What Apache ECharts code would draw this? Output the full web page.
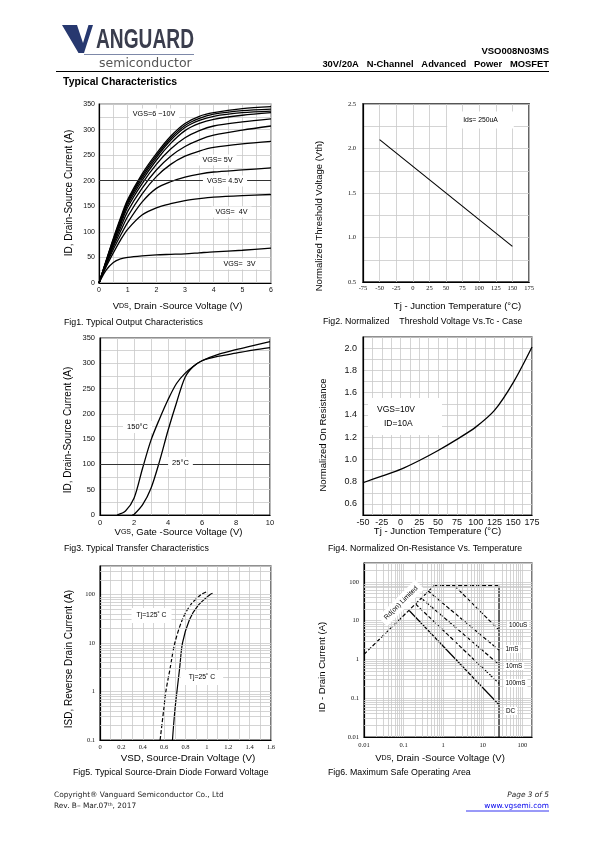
<!DOCTYPE html>
<html><head><meta charset="utf-8">
<script src="https://cdn.jsdelivr.net/npm/echarts@6/dist/echarts.min.js"></script>
<style>html,body{margin:0;padding:0;background:#fff}#c{width:595px;height:842px}</style>
</head><body><div id="c"></div>
<script>
// ---------- Fig1: output characteristics ----------
const fig1Vds = [0,0.25,0.5,0.75,1,1.5,2,2.5,3,3.5,4,5,6];
const fig1Id_10V = [0,44,87,127,163,213,253,287,312,326,333,341,345];
const fig1Id_9V  = [0,43,85,124,160,209,249,283,308,322,330,337,340];
const fig1Id_8V  = [0,42,83,121,157,205,245,279,304,318,326,333,336];
const fig1Id_7V  = [0,41,81,118,153,200,240,273,298,312,320,328,333];
const fig1Id_6V  = [0,40,78,114,148,194,232,262,284,298,307,315,321];
const fig1Id_55V = [0,39,75,108,140,185,221,248,267,280,289,299,307];
const fig1Id_5V  = [0,37,71,101,130,174,208,232,248,258,265,272,277];
const fig1Id_45V = [0,35,66,93,118,158,185,198,207,213,217,221,225];
const fig1Id_4V  = [0,32,59,84,105,133,147,155,161,165,168,171,173];
const fig1Id_3V  = [0,25,40,47,50,53,55,56,57,59,61,64,68];
const fig1Curves = [fig1Id_10V,fig1Id_9V,fig1Id_8V,fig1Id_7V,fig1Id_6V,fig1Id_55V,fig1Id_5V,fig1Id_45V,fig1Id_4V,fig1Id_3V];
const fig1Names = ['VGS=10V','VGS=9V','VGS=8V','VGS=7V','VGS=6V','VGS=5.5V','VGS=5V','VGS=4.5V','VGS=4V','VGS=3V'];

// ---------- Fig2: threshold voltage ----------
const fig2Tj = [-50, 150];
const fig2Vth = [2.1, 0.9];

// ---------- Fig3: transfer characteristics ----------
const fig3Vgs150 = [1,1.5,2,2.5,3,3.5,4,4.5,5,5.5,6,7,8,9,10];
const fig3Id150  = [0,8,33,92,148,190,228,260,280,294,305,314,320,326,331];
const fig3Vgs25  = [1.9,2,2.5,3,3.5,4,4.5,5,5.5,6,7,8,9,10];
const fig3Id25   = [0,1,20,53,106,167,222,272,294,305,318,327,335,343];

// ---------- Fig4: on-resistance ----------
const fig4Tj = [-50,-25,0,25,50,75,100,125,150,175];
const fig4Ron = [0.79,0.85,0.91,0.99,1.08,1.18,1.29,1.44,1.69,2.01];

// ---------- Fig5: diode forward voltage ----------
const fig5Vsd125 = [0.5625,0.60,0.616,0.656,0.70,0.77,0.845,0.947,1.0];
const fig5Isd125 = [0.1,0.5,1,3,10,30,60,100,114];
const fig5Vsd25  = [0.678,0.70,0.72,0.745,0.772,0.837,0.92,1.03,1.053];
const fig5Isd25  = [0.1,0.4,1,3,10,30,60,100,106];
const fig5YTickLabels = ['0.1','1','10','100'];

// ---------- Fig6: safe operating area ----------
const fig6RdsV = [0.01, 0.59];      const fig6RdsI = [1.35, 80];
const fig6TopV = [0.59, 25.7];      const fig6TopI = [80, 80];
const fig6VmaxV = [25.7, 25.7];     const fig6VmaxI = [80, 0.01];
const fig6_100usV = [1.93, 25.7];   const fig6_100usI = [80, 5.7];
const fig6_1msV = [0.41, 25.7];     const fig6_1msI = [59, 1.74];
const fig6_10msV = [0.28, 25.7];    const fig6_10msI = [38, 0.74];
const fig6_100msV = [0.2, 25.7];    const fig6_100msI = [27, 0.24];
const fig6_dcV = [0.14, 25.7];      const fig6_dcI = [18, 0.068];
const fig6TickLabels = ['0.01','0.1','1','10','100'];

// ---------------------------------------------------------
const L10 = Math.log10;
const zip = (a,b) => a.map((v,i)=>[v,b[i]]);
const zipLog = (a,b,lx) => a.map((v,i)=>[lx?L10(v):v, L10(b[i])]);
const GC = '#c9c9c9';
const SANS = 'Liberation Sans';

function logMinor(lo, hi){
  const out=[];
  for(let d=Math.floor(lo); d<=Math.ceil(hi); d++){
    for(let k=2;k<=9;k++){ const v=d+L10(k); if(v>lo+1e-6 && v<hi-1e-6) out.push(v); }
  }
  return out;
}

function ax(gi, min, max, interval, o){
  o = o||{};
  return {
    type:'value', gridIndex:gi, min:min, max:max, interval:interval,
    axisLine:{show:true, onZero:false, lineStyle:{color:'#000', width:1.2}},
    axisTick:{show:false},
    splitLine:{show:true, lineStyle:{color:GC, width:0.8}},
    minorTick:{show:false, splitNumber:o.minor||2},
    minorSplitLine:{show:!!o.minor, lineStyle:{color:GC, width:0.8}},
    axisLabel:{color:'#111', fontSize:o.fs||7, fontFamily:o.ff||SANS, margin:o.margin==null?4:o.margin,
      formatter:o.fmt, showMaxLabel: o.showMax==null?true:o.showMax}
  };
}

const grids = [
  {left:99, top:104, width:172, height:179, borderColor:'#777'},
  {left:363, top:104, width:166, height:178, borderColor:'#555', borderWidth:1.8},
  {left:100, top:338, width:170, height:177},
  {left:363, top:337, width:169, height:178},
  {left:100, top:566, width:171, height:174},
  {left:364, top:563, width:168, height:174}
].map(g=>Object.assign({show:true, borderColor:'#222', borderWidth:1.2, backgroundColor:'#fff', outerBoundsMode:'none', containLabel:false}, g));

const fig5Ymax = 2.587, fig6Xmax = 2.243, fig6Ymax = 2.487;
const logFmt = (labels, lo) => v => { const r=Math.round(v); return Math.abs(v-r)<1e-6 ? (labels[r-lo]||'') : ''; };

const xAxes = [
  ax(0,0,6,1,{minor:2, fs:7}),
  ax(1,-75,175,25,{fs:6.5, ff:'Liberation Serif', margin:3}),
  ax(2,0,10,2,{minor:2, fs:7.5, margin:4}),
  ax(3,-50,175,25,{minor:2, fs:9, margin:3}),
  ax(4,0,1.6,0.2,{minor:2, fs:6.5, ff:'Liberation Serif', margin:4, fmt:v=>(Math.round(v*10)/10).toString()}),
  ax(5,-2,fig6Xmax,1,{fs:6.5, ff:'Liberation Serif', margin:5, fmt:logFmt(fig6TickLabels,-2)})
];
const yAxes = [
  ax(0,0,350,50,{minor:2, fs:7}),
  ax(1,0.5,2.5,0.5,{minor:2, fs:6.5, ff:'Liberation Serif', margin:7, fmt:v=>v.toFixed(1)}),
  ax(2,0,350,50,{minor:2, fs:7.5, margin:5}),
  ax(3,0.5,2.1,0.1,{fs:9, margin:6, fmt:v=>{const t=Math.round(v*10); return (t%2===0)?(t/10).toFixed(1):'';}}),
  ax(4,-1,fig5Ymax,1,{fs:6.5, ff:'Liberation Serif', margin:5, fmt:logFmt(fig5YTickLabels,-1)}),
  ax(5,-2,fig6Ymax,1,{fs:6.5, ff:'Liberation Serif', margin:5, fmt:logFmt(fig6TickLabels,-2)})
];

function curve(gi, data, o){
  o=o||{};
  return {type:'line', xAxisIndex:gi, yAxisIndex:gi, data:data, name:o.name,
    smooth:o.smooth||false,
    symbol:'none', showSymbol:false, silent:true, z:3, clip:true,
    lineStyle:{color:'#000', width:o.w||1.3, type:o.dash?[4,2]:'solid'}};
}
function gridLines(gi, ys, xs, color, w){
  const d=[];
  (ys||[]).forEach(v=>d.push({yAxis:v}));
  (xs||[]).forEach(v=>d.push({xAxis:v}));
  return {type:'line', xAxisIndex:gi, yAxisIndex:gi, data:[], silent:true, z:1,
    markLine:{silent:true, symbol:['none','none'], animation:false, label:{show:false},
      emphasis:{disabled:true}, lineStyle:{color:color||GC, width:w||0.8, type:'solid'}, data:d}};
}

const series = [];
fig1Curves.forEach((c,i)=>series.push(curve(0, zip(fig1Vds,c), {smooth:0.3, name:fig1Names[i], w:1.3})));
series.push(gridLines(0,[200],null,'#333',1));
series.push(curve(1, zip(fig2Tj,fig2Vth), {w:1.1}));
series.push(curve(2, zip(fig3Vgs150,fig3Id150), {smooth:0.3, name:'150°C'}));
series.push(curve(2, zip(fig3Vgs25,fig3Id25), {smooth:0.3, name:'25°C'}));
series.push(gridLines(2,[100],null,'#333',1));
series.push(curve(3, zip(fig4Tj,fig4Ron), {smooth:0.3, w:1.3}));
series.push(gridLines(4, logMinor(-1,fig5Ymax), null));
series.push(curve(4, zipLog(fig5Vsd125,fig5Isd125,false), {smooth:0.3, dash:true, w:1.2}));
series.push(curve(4, zipLog(fig5Vsd25,fig5Isd25,false), {smooth:0.3, w:1.2}));
series.push(gridLines(5, logMinor(-2,fig6Ymax), logMinor(-2,fig6Xmax)));
[[fig6RdsV,fig6RdsI,true],[fig6TopV,fig6TopI,true],[fig6VmaxV,fig6VmaxI,false],[fig6_100usV,fig6_100usI,true],
 [fig6_1msV,fig6_1msI,true],[fig6_10msV,fig6_10msI,true],[fig6_100msV,fig6_100msI,true],[fig6_dcV,fig6_dcI,false]]
 .forEach(s=>series.push(curve(5, zipLog(s[0],s[1],true), {dash:s[2], w:1.2})));

// ---------- text ----------
const G=[];
function T(text,x,y,o){
  o=o||{};
  const st={text:text, fill:o.fill||'#000', fontSize:o.fs||9, fontFamily:o.ff||SANS, fontWeight:o.fw||'normal',
    fontStyle:o.it?'italic':'normal', align:o.align||'left', verticalAlign:'middle'};
  if(o.bg){ st.backgroundColor='#fff'; st.padding=o.pad||[2,4]; }
  if(o.rich) st.rich=o.rich;
  const e={type:'text', x:x, y:y, z:50, silent:true, style:st};
  if(o.rot) e.rotation=o.rot;
  if(o.sx) e.scaleX=o.sx;
  G.push(e);
}
// header
G.push({type:'polygon', z:50, silent:true, shape:{points:[[62,25],[77,25],[83,43],[88.5,25],[93,25],[84,53],[78.5,53]]}, style:{fill:'#27386f'}});
T('ANGUARD',96,40.5,{fs:27, fw:'bold', fill:'#3a3d4d', sx:0.71});
G.push({type:'line', z:50, silent:true, shape:{x1:84,y1:54.5,x2:194,y2:54.5}, style:{stroke:'#7d88a8', lineWidth:1}});
T('semiconductor',99,63.5,{fs:12.5, ff:'DejaVu Sans', fill:'#555'});
G.push({type:'line', z:50, silent:true, shape:{x1:56,y1:71.5,x2:549,y2:71.5}, style:{stroke:'#000', lineWidth:1}});
T('VSO008N03MS',549,51.5,{fs:9.5, fw:'bold', align:'right'});
T('30V/20A   N-Channel   Advanced   Power   MOSFET',549,64.5,{fs:9.4, fw:'bold', align:'right'});
T('Typical Characteristics',63,82,{fs:10.5, fw:'bold'});

const rich = {a:{fontSize:9.5,fontFamily:SANS}, s:{fontSize:7,fontFamily:SANS}};
// Fig1
T('ID, Drain-Source Current (A)',69,193,{fs:10, align:'center', rot:Math.PI/2});
T('{a|V}{s|DS}{a|, Drain -Source Voltage (V)}',177.5,306,{align:'center', rich:rich});
T('Fig1. Typical Output Characteristics',64,323,{fs:8.8});
T('VGS=6 ~10V',154,114,{fs:7.2, align:'center', bg:true});
T('VGS= 5V',217.5,160,{fs:7.2, align:'center', bg:true});
T('VGS= 4.5V',225,181,{fs:7.2, align:'center', bg:true});
T('VGS=  4V',231.5,212,{fs:7.2, align:'center', bg:true});
T('VGS=  3V',239.5,264,{fs:7.2, align:'center', bg:true});
// Fig2
T('Normalized Threshold Voltage (Vth)',319,216,{fs:9.5, align:'center', rot:Math.PI/2});
T('Tj - Junction Temperature (°C)',457.5,306.5,{fs:9.5, align:'center'});
T('Fig2. Normalized    Threshold Voltage Vs.Tc - Case',323,321.5,{fs:8.8});
T('Ids= 250uA',480.5,120,{fs:6.8, align:'center', bg:true, pad:[5,16]});
// Fig3
T('ID, Drain-Source Current (A)',68,430,{fs:10, align:'center', rot:Math.PI/2});
T('{a|V}{s|GS}{a|, Gate -Source Voltage (V)}',178.5,532,{align:'center', rich:rich});
T('Fig3. Typical Transfer Characteristics',64,548.5,{fs:8.8});
T('150°C',137.5,427,{fs:7.5, align:'center', bg:true});
T('25°C',180.5,463,{fs:7.5, align:'center', bg:true});
// Fig4
T('Normalized On Resistance',323,435,{fs:9.5, align:'center', rot:Math.PI/2});
T('Tj - Junction Temperature (°C)',437.5,531.5,{fs:9.5, align:'center'});
T('Fig4. Normalized On-Resistance Vs. Temperature',328,548.5,{fs:8.8});
G.push({type:'rect', z:49, silent:true, shape:{x:368,y:398,width:74,height:37}, style:{fill:'#fff'}});
T('VGS=10V',377,410,{fs:8.5});
T('ID=10A',384,423.5,{fs:8.5});
// Fig5
T('ISD, Reverse Drain Current (A)',69,659,{fs:10, align:'center', rot:Math.PI/2});
T('VSD, Source-Drain Voltage (V)',188,758,{fs:9.8, align:'center'});
T('Fig5. Typical Source-Drain Diode Forward Voltage',73,773,{fs:8.8});
T('Tj=125˚ C',151.5,615.5,{fs:6.8, align:'center', bg:true, pad:[4,5]});
T('Tj=25˚ C',202,677.5,{fs:6.8, align:'center', bg:true, pad:[4,8]});
// Fig6
T('ID - Drain Current (A)',322,667,{fs:9.5, align:'center', rot:Math.PI/2});
T('{a|V}{s|DS}{a|, Drain -Source Voltage (V)}',440,758,{align:'center', rich:rich});
T('Fig6. Maximum Safe Operating Area',328,773,{fs:8.8});
T('Rd(on) Limited',401,603,{fs:6.8, align:'center', bg:true, rot:Math.PI/4, pad:[3,4]});
T('100uS',518,625,{fs:6.3, align:'center', bg:true, pad:[1,2]});
T('1mS',512,649,{fs:6.3, align:'center', bg:true, pad:[1,2]});
T('10mS',514,666,{fs:6.3, align:'center', bg:true, pad:[1,2]});
T('100mS',515.5,683,{fs:6.3, align:'center', bg:true, pad:[1,2]});
T('DC',510.5,711,{fs:6.3, align:'center', bg:true, pad:[1,2]});
// footer
T('Copyright® Vanguard Semiconductor Co., Ltd',54,795,{fs:7.4, ff:'DejaVu Sans', fill:'#222'});
T('{f|Rev. B– Mar.07}{t|th}{f|, 2017}',54,806,{rich:{f:{fontSize:7.4,fontFamily:'DejaVu Sans',fill:'#222'}, t:{fontSize:4.5,fontFamily:'DejaVu Sans',fill:'#222', verticalAlign:'top'}}});
T('Page 3 of 5',549,795,{fs:7.4, ff:'DejaVu Sans', it:true, align:'right', fill:'#222'});
T('www.vgsemi.com',549,806,{fs:7.4, ff:'DejaVu Sans', align:'right', fill:'#0000ee'});
G.push({type:'line', z:50, silent:true, shape:{x1:466,y1:811,x2:549,y2:811}, style:{stroke:'#0000ee', lineWidth:0.8}});

const chart = echarts.init(document.getElementById('c'), null, {renderer:'canvas', width:595, height:842});
chart.setOption({
  animation:false, backgroundColor:'#fff',
  grid:grids, xAxis:xAxes, yAxis:yAxes, series:series, graphic:{elements:G}
});
</script></body></html>
